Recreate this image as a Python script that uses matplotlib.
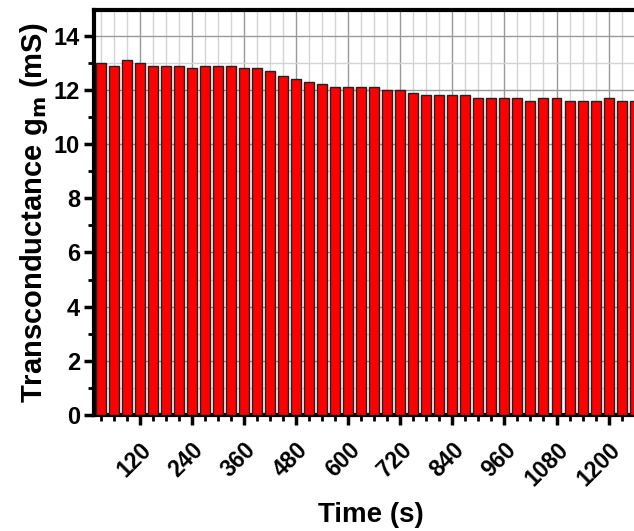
import matplotlib

matplotlib.use("Agg")

import matplotlib.pyplot as plt
from matplotlib.ticker import MultipleLocator

# time (s) and transconductance (mS)
times = list(range(30, 1261, 30))
gm = [13.0, 12.9, 13.1, 13.0, 12.9, 12.9, 12.9, 12.8, 12.9, 12.9,
      12.9, 12.8, 12.8, 12.7, 12.5, 12.4, 12.3, 12.2, 12.1, 12.1,
      12.1, 12.1, 12.0, 12.0, 11.9, 11.8, 11.8, 11.8, 11.8, 11.7,
      11.7, 11.7, 11.7, 11.6, 11.7, 11.7, 11.6, 11.6, 11.6, 11.7,
      11.6, 11.6]
xticks = [120, 240, 360, 480, 600, 720, 840, 960, 1080, 1200]
yticks = [0, 2, 4, 6, 8, 10, 12, 14]

plt.rcParams["font.family"] = ["Liberation Sans", "DejaVu Sans"]
plt.rcParams["font.weight"] = "bold"

fig = plt.figure(figsize=(6.34, 5.31), dpi=100)
# axes run off the right edge like the cropped original
ax = fig.add_axes([0.1483, 0.2185, 0.8733, 0.7627])

ax.bar(times, gm, width=23, color="#ff0000", edgecolor="#222222",
       linewidth=1.0, zorder=3)

ax.set_xlim(15, 1290)
ax.set_ylim(0, 14.95)
ax.set_xticks(xticks)
ax.set_xticklabels([str(t) for t in xticks], rotation=45, ha="right",
                   rotation_mode="anchor", fontsize=16.5, fontweight="bold")
ax.xaxis.set_minor_locator(MultipleLocator(30))
ax.set_yticks(yticks)
ax.set_yticklabels([str(v) for v in yticks], fontsize=17, fontweight="bold")
ax.yaxis.set_minor_locator(MultipleLocator(1))

ax.tick_params(which="major", direction="out", length=7, width=2.5,
               pad=3)
ax.tick_params(axis="x", which="major", pad=10)
ax.tick_params(which="minor", direction="out", length=4, width=2)

ax.grid(which="major", color="#999999", linewidth=1.0, zorder=0)
ax.grid(which="minor", color="#d4d4d4", linewidth=1.0, zorder=0)
ax.set_axisbelow(True)

for s in ax.spines.values():
    s.set_linewidth(3)

ax.set_xlabel("Time (s)", fontsize=20, fontweight="bold", labelpad=8)
ax.set_ylabel(r"Transconductance g$_\mathbf{m}$ (mS)", fontsize=21,
              fontweight="bold", labelpad=3)

fig.savefig("out.png", dpi=100)
plt.close(fig)
